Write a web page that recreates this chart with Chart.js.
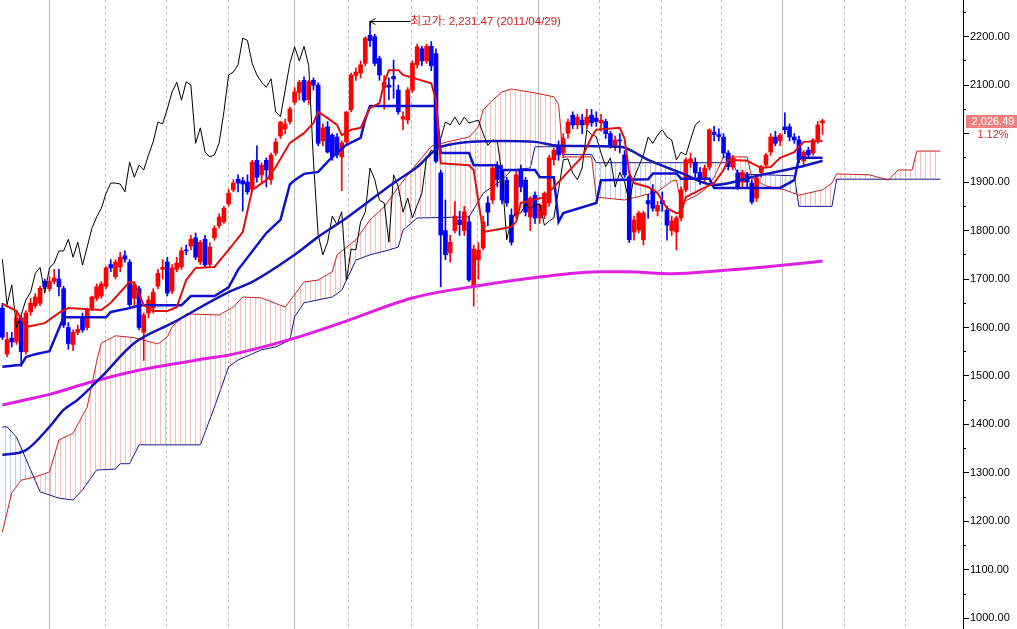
<!DOCTYPE html>
<html>
<head>
<meta charset="utf-8">
<script src="https://cdn.jsdelivr.net/npm/chart.js@4.4.1/dist/chart.umd.min.js"></script>
<style>
    html, body { margin: 0; padding: 0; background: #ffffff; overflow: hidden; }
    #kospiChart { display: block; }
</style>
</head>
<body>
<canvas id="kospiChart" width="1017" height="629"></canvas>
<script>
// Weekly candles (week 0 = end of Oct 2009, last = end of Feb 2013)
const opens = [
    1640, 1545, 1578, 1570, 1620, 1550, 1632, 1645, 1650, 1695,
    1680, 1695, 1700, 1680, 1600, 1565, 1590, 1622, 1600, 1640,
    1660, 1665, 1685, 1730, 1705, 1725, 1748, 1735, 1660, 1680,
    1590, 1630, 1640, 1685, 1720, 1735, 1675, 1720, 1725, 1760,
    1768, 1785, 1735, 1782, 1730, 1785, 1810, 1818, 1855, 1884,
    1906, 1903, 1900, 1885, 1945, 1915, 1945, 1905, 1960, 1995,
    2010, 2025, 2065, 2085, 2110, 2070, 2110, 2100, 1985, 2014,
    1997, 1993, 1952, 1983, 2049, 2120, 2125, 2145, 2203, 2200,
    2155, 2095, 2100, 2118, 2090, 2030, 2028, 2090, 2142, 2175,
    2150, 2180, 2165, 1919, 1800, 1754, 1800, 1822, 1800, 1818,
    1684, 1740, 1764, 1857, 1863, 1935, 1925, 1904, 1832, 1832,
    1925, 1904, 1828, 1873, 1826, 1832, 1857, 1946, 1973, 1960,
    2001, 2038, 2018, 2028, 2018, 2038, 2032, 2022, 2025, 2000,
    1976, 1987, 1956, 1911, 1797, 1801, 1781, 1862, 1884, 1840,
    1862, 1842, 1800, 1797, 1826, 1884, 1940, 1941, 1920, 1908,
    1931, 2003, 1998, 1993, 1960, 1931, 1919, 1900, 1915, 1898,
    1867, 1920, 1935, 1962, 1993, 1985, 2014, 2014, 1993, 1987,
    1944, 1966, 1960, 1987, 2022
];
const highs = [
    1650, 1590, 1590, 1635, 1625, 1635, 1660, 1670, 1685, 1700,
    1705, 1720, 1720, 1685, 1610, 1595, 1605, 1630, 1640, 1665,
    1690, 1695, 1725, 1740, 1740, 1755, 1758, 1740, 1695, 1685,
    1630, 1665, 1680, 1720, 1740, 1745, 1730, 1745, 1765, 1770,
    1790, 1795, 1780, 1790, 1775, 1810, 1835, 1850, 1885, 1905,
    1915, 1910, 1915, 1945, 1975, 1940, 1950, 1960, 1990, 2025,
    2030, 2055, 2095, 2110, 2117, 2110, 2115, 2105, 2020, 2025,
    2000, 2000, 1985, 2045, 2125, 2135, 2150, 2200, 2231.47, 2205,
    2160, 2120, 2115, 2152, 2100, 2045, 2095, 2150, 2185, 2180,
    2185, 2190, 2175, 1925, 1863, 1790, 1860, 1840, 1850, 1830,
    1770, 1775, 1830, 1870, 1935, 1942, 1935, 1910, 1845, 1925,
    1935, 1910, 1870, 1880, 1855, 1880, 1955, 1970, 1985, 2000,
    2030, 2045, 2040, 2040, 2050, 2050, 2045, 2040, 2030, 2005,
    1995, 2000, 1965, 1915, 1830, 1840, 1840, 1875, 1895, 1860,
    1880, 1850, 1830, 1830, 1890, 1950, 1960, 1950, 1930, 1935,
    2010, 2015, 2010, 2000, 1965, 1955, 1925, 1925, 1920, 1905,
    1915, 1935, 1960, 2000, 2005, 2000, 2043, 2020, 2000, 1995,
    1965, 1972, 1990, 2025, 2030
];
const lows = [
    1575, 1540, 1560, 1565, 1520, 1545, 1625, 1640, 1645, 1680,
    1675, 1690, 1665, 1600, 1555, 1552, 1585, 1590, 1595, 1635,
    1655, 1660, 1680, 1715, 1700, 1715, 1735, 1640, 1640, 1595,
    1532, 1620, 1630, 1680, 1700, 1665, 1670, 1715, 1720, 1750,
    1760, 1740, 1730, 1725, 1725, 1780, 1805, 1815, 1850, 1880,
    1880, 1840, 1875, 1880, 1900, 1900, 1890, 1895, 1955, 1990,
    2000, 2020, 2060, 2070, 2065, 2060, 2090, 1975, 1975, 1960,
    1945, 1950, 1882, 1980, 2045, 2110, 2115, 2140, 2180, 2140,
    2110, 2050, 2070, 2073, 2040, 2008, 2020, 2085, 2135, 2140,
    2145, 2130, 1940, 1684, 1740, 1735, 1795, 1790, 1790, 1695,
    1644, 1700, 1760, 1810, 1855, 1890, 1855, 1850, 1770, 1825,
    1880, 1830, 1800, 1815, 1815, 1825, 1850, 1935, 1945, 1950,
    1990, 2010, 2010, 2000, 2010, 2015, 2015, 2005, 1990, 1970,
    1965, 1960, 1910, 1775, 1780, 1795, 1770, 1825, 1840, 1830,
    1840, 1780, 1790, 1760, 1820, 1880, 1930, 1910, 1895, 1900,
    1925, 1985, 1985, 1950, 1925, 1925, 1885, 1890, 1890, 1855,
    1860, 1910, 1930, 1955, 1975, 1975, 2000, 1985, 1980, 1940,
    1935, 1950, 1955, 1980, 1998
];
const closes = [
    1580, 1575, 1570, 1620, 1550, 1630, 1650, 1663, 1681, 1684,
    1695, 1702, 1684, 1605, 1567, 1590, 1596, 1595, 1636, 1663,
    1684, 1690, 1723, 1723, 1735, 1745, 1741, 1647, 1688, 1600,
    1626, 1657, 1673, 1712, 1724, 1671, 1723, 1733, 1758, 1758,
    1782, 1745, 1776, 1729, 1766, 1805, 1828, 1846, 1877, 1898,
    1898, 1896, 1880, 1941, 1910, 1935, 1925, 1956, 1983, 2024,
    2020, 2051, 2086, 2106, 2069, 2107, 2100, 1980, 2012, 1962,
    1952, 1956, 1981, 2045, 2121, 2127, 2142, 2197, 2192, 2145,
    2121, 2106, 2096, 2113, 2045, 2035, 2090, 2145, 2179, 2150,
    2180, 2140, 1943, 1791, 1750, 1776, 1830, 1812, 1839, 1698,
    1762, 1760, 1818, 1838, 1929, 1905, 1863, 1857, 1776, 1915,
    1890, 1838, 1867, 1826, 1852, 1877, 1950, 1966, 1956, 1990,
    2024, 2018, 2034, 2018, 2034, 2022, 2025, 2028, 2000, 1976,
    1987, 1985, 1915, 1781, 1822, 1836, 1836, 1855, 1846, 1852,
    1855, 1811, 1820, 1826, 1884, 1946, 1948, 1919, 1905, 1929,
    2008, 1998, 1994, 1960, 1932, 1950, 1890, 1920, 1900, 1859,
    1909, 1932, 1956, 1993, 1980, 1997, 2008, 1993, 1987, 1946,
    1962, 1956, 1987, 2018, 2026.49
];

// Indicator lines as [week, value]
const tenkanPts = [
    [0, 1649], [3, 1634], [5, 1601], [9, 1609], [12, 1630], [14, 1640], [21, 1636], [23, 1651],
    [27, 1694], [28, 1692], [30, 1646], [32, 1634], [35, 1634], [37, 1642], [39, 1698], [41, 1723],
    [45, 1725], [48, 1760], [51, 1797], [53, 1884], [56, 1904], [58, 1931], [61, 1981], [64, 2001],
    [66, 2022], [67, 2045], [69, 2032], [71, 2018], [72, 1997], [74, 2008], [76, 2012], [78, 2053],
    [80, 2063], [81, 2104], [82, 2131], [84, 2131], [85, 2121], [91, 2104], [92, 2069], [93, 1939],
    [99, 1935], [100, 1925], [101, 1860], [102, 1797], [107, 1806], [108, 1808], [109, 1818], [110, 1857],
    [115, 1869], [118, 1900], [120, 1921], [123, 1952], [125, 1993], [126, 2008], [131, 2012], [132, 1990],
    [133, 1919], [134, 1898], [137, 1890], [139, 1877], [141, 1846], [143, 1836], [144, 1838], [145, 1869],
    [148, 1884], [151, 1898], [153, 1925], [154, 1946], [158, 1944], [161, 1929], [163, 1931], [165, 1950],
    [168, 1962], [170, 1983], [174, 1985]
];
const kijunPts = [
    [0, 1519], [4, 1523], [5, 1539], [7, 1545], [10, 1551], [13, 1621], [22, 1621], [23, 1632],
    [27, 1640], [29, 1646], [38, 1646], [40, 1665], [45, 1665], [48, 1683], [50, 1719], [56, 1795],
    [59, 1822], [61, 1895], [62, 1904], [64, 1917], [67, 1921], [70, 1952], [73, 1977], [76, 1991],
    [77, 2030], [78, 2057], [92, 2057], [93, 1960], [99, 1960], [100, 1935], [105, 1935], [106, 1925],
    [113, 1925], [114, 1910], [117, 1910], [118, 1818], [119, 1836], [126, 1857], [127, 1904], [137, 1906],
    [138, 1918], [143, 1918], [144, 1907], [150, 1907], [151, 1888], [165, 1888], [168, 1904], [169, 1950],
    [174, 1950]
];
const maBluePts = [
    [0, 1337], [5, 1347], [10, 1395], [13, 1430], [16, 1451], [21, 1498], [28, 1568], [36, 1609],
    [48, 1673], [53, 1694], [62, 1750], [67, 1787], [73, 1826], [83, 1898], [88, 1931], [93, 1973],
    [106, 1985], [113, 1983], [118, 1975], [131, 1973], [137, 1946], [144, 1919], [151, 1894], [161, 1915],
    [169, 1931], [174, 1944]
];
const maPinkPts = [
    [0, 1440], [5, 1451], [10, 1462], [19, 1488], [29, 1512], [44, 1537], [48, 1543], [62, 1578],
    [72, 1610], [87, 1661], [101, 1686], [114, 1704], [127, 1715], [132, 1715], [142, 1711],
    [152, 1717], [166, 1729], [174, 1737]
];
const spanAPts = [
    [0, 1178], [2, 1259], [4, 1285], [7, 1292], [10, 1302], [12, 1368], [15, 1382], [18, 1436],
    [20, 1530], [21, 1568], [24, 1583], [28, 1579], [33, 1566], [35, 1581], [36, 1601], [39, 1628],
    [46, 1626], [49, 1642], [51, 1663], [55, 1661], [60, 1642], [64, 1694], [67, 1698], [70, 1715],
    [71, 1750], [75, 1781], [78, 1822], [81, 1849], [84, 1890], [88, 1939], [91, 1974], [94, 1982],
    [99, 1993], [101, 2014], [102, 2049], [104, 2069], [106, 2086], [108, 2092], [113, 2084], [117, 2076],
    [118, 2060], [119, 1952], [125, 1952], [126, 1869], [132, 1863], [139, 1880], [142, 1902], [143, 1904],
    [144, 1857], [147, 1871], [149, 1884], [151, 1910], [153, 1952], [158, 1952], [159, 1909], [162, 1892],
    [166, 1884], [169, 1873], [174, 1884], [176, 1898], [177, 1917], [184, 1915], [188, 1904], [190, 1925],
    [193, 1925], [194, 1964], [199, 1964]
];
const spanBPts = [
    [0, 1395], [1, 1395], [3, 1374], [8, 1261], [12, 1248], [15, 1244], [17, 1265], [20, 1306],
    [24, 1308], [25, 1319], [27, 1319], [29, 1358], [42, 1358], [45, 1436], [48, 1519], [50, 1533],
    [55, 1554], [58, 1560], [61, 1574], [62, 1622], [64, 1651], [70, 1663], [72, 1677], [75, 1739],
    [78, 1750], [82, 1760], [84, 1766], [85, 1801], [88, 1826], [99, 1828], [102, 1877], [103, 1884],
    [106, 1904], [108, 1925], [112, 1929], [113, 1973], [118, 1973], [119, 1957], [125, 1957], [126, 1940],
    [155, 1940], [156, 1917], [168, 1913], [169, 1850], [176, 1850], [177, 1906], [199, 1906]
];
const lagWeeks = 26;

// Axis ticks / grid positions (in weeks)
const quarterWeeks = [21.8, 34.9, 47.9, 73.5, 86.7, 100.7, 126.6, 139.8, 152.5, 178.6, 191.7];
const yearWeeks = [9.9, 61.9, 113.7, 165.6];
const priceTicks = [1000, 1100, 1200, 1300, 1400, 1500, 1600, 1700, 1800, 1900, 2000, 2100, 2200];
const minorTicks = [1050, 1150, 1250, 1350, 1450, 1550, 1650, 1750, 1850, 1950, 2050, 2150, 2250];

const highWeek = 78;
const highPrice = 2231.47;
const highLabel = '최고가: 2,231.47 (2011/04/29)';
const lastLabel = '2,026.49';
const changeLabel = '1.12%';

const axisFont = { family: '"Liberation Sans", Arial, sans-serif', size: 11 };


// Vertical hatch used for the cloud
function makeHatch(color) {
    const c = document.createElement('canvas');
    c.width = 5;
    c.height = 4;
    const g = c.getContext('2d');
    g.fillStyle = color;
    g.fillRect(0, 0, 1, 4);
    return g.createPattern(c, 'repeat');
}

const toXY = (pts) => pts.map(p => ({ x: p[0], y: p[1] }));
const candleColor = (ctx) => {
    const i = ctx.dataIndex;
    if (i === undefined) return '#ff0000';
    return closes[i] >= opens[i] ? '#ff0000' : '#0000ff';
};

const bodies = closes.map((c, i) => ({ x: i, y: [opens[i], c] }));
const wicks = closes.map((c, i) => ({ x: i, y: [lows[i], highs[i]] }));
const lagging = closes.slice(lagWeeks).map((c, i) => ({ x: i, y: c }));
const lastClose = closes[closes.length - 1];

// Labels: highest price arrow + last price tag on the axis
const markerPlugin = {
    id: 'markers',
    afterDraw(chart) {
        const { ctx } = chart;
        const xs = chart.scales.x;
        const ys = chart.scales.y;
        ctx.save();

        const hx = Math.round(xs.getPixelForValue(highWeek)) + 0.5;
        const hy = Math.round(ys.getPixelForValue(highPrice)) + 0.5;
        ctx.strokeStyle = '#000000';
        ctx.lineWidth = 1;
        ctx.beginPath();
        ctx.moveTo(hx + 40, hy);
        ctx.lineTo(hx, hy);
        ctx.moveTo(hx + 5, hy - 3);
        ctx.lineTo(hx, hy);
        ctx.lineTo(hx + 5, hy + 3);
        ctx.moveTo(hx, hy);
        ctx.lineTo(hx, hy + 4);
        ctx.stroke();

        ctx.font = '11.5px "Liberation Sans", "Noto Sans CJK KR", sans-serif';
        ctx.fillStyle = '#d02020';
        ctx.textBaseline = 'middle';
        ctx.textAlign = 'left';
        ctx.fillText(highLabel, hx + 40, hy);

        const ty = Math.round(ys.getPixelForValue(lastClose));
        ctx.fillStyle = '#f08080';
        ctx.fillRect(ys.left + 3, ty - 6, chart.width - ys.left - 3, 13);
        ctx.font = '11px "Liberation Sans", Arial, sans-serif';
        ctx.textAlign = 'center';
        ctx.fillStyle = '#ffffff';
        ctx.fillText(lastLabel, ys.left + 30, ty + 0.5);
        ctx.fillStyle = '#c83030';
        ctx.fillText(changeLabel, ys.left + 30, ty + 13.5);
        ctx.restore();
    }
};

const noPad = (s) => { s.paddingTop = 0; s.paddingBottom = 0; s.paddingLeft = 0; s.paddingRight = 0; };

new Chart(document.getElementById('kospiChart'), {
    type: 'line',
    data: {
        datasets: [
            { label: 'tenkan', data: toXY(tenkanPts), borderColor: '#e01010', borderWidth: 2, order: 1 },
            { label: 'kijun', data: toXY(kijunPts), borderColor: '#1010d0', borderWidth: 2.5, order: 2 },
            {
                label: 'ma26', data: toXY(maBluePts), borderColor: '#1414bc', borderWidth: 2.5, order: 3,
                cubicInterpolationMode: 'monotone'
            },
            {
                label: 'ma52', data: toXY(maPinkPts), borderColor: '#e020e0', borderWidth: 3, order: 4,
                cubicInterpolationMode: 'monotone'
            },
            { label: 'lagging', data: lagging, borderColor: '#000000', borderWidth: 1, order: 5 },
            {
                label: 'body', type: 'bar', data: bodies,
                backgroundColor: candleColor, borderWidth: 0,
                barThickness: 4, minBarLength: 1, grouped: false, order: 6
            },
            {
                label: 'wick', type: 'bar', data: wicks,
                backgroundColor: candleColor, borderWidth: 0,
                barThickness: 1, grouped: false, order: 7
            },
            {
                label: 'spanA', data: toXY(spanAPts), borderColor: '#c82020', borderWidth: 1, order: 8,
                fill: { target: 8, above: makeHatch('rgba(232, 140, 140, 0.55)'), below: makeHatch('rgba(140, 160, 225, 0.55)') }
            },
            { label: 'spanB', data: toXY(spanBPts), borderColor: '#12128c', borderWidth: 1, order: 9 }
        ]
    },
    options: {
        responsive: false,
        animation: false,
        events: [],
        layout: { padding: 0 },
        elements: {
            point: { radius: 0 },
            line: { tension: 0, fill: false }
        },
        plugins: {
            legend: { display: false },
            tooltip: { enabled: false }
        },
        scales: {
            x: {
                type: 'linear', position: 'bottom', min: -0.5, max: 203.8, offset: false,
                afterBuildTicks: (s) => { s.ticks = quarterWeeks.map(v => ({ value: v })); },
                ticks: { display: false },
                grid: { offset: false, color: '#c4c4c4', drawTicks: false },
                border: { display: false, dash: [3, 3] },
                afterFit: (s) => { s.height = 0; noPad(s); }
            },
            xYear: {
                type: 'linear', position: 'bottom', min: -0.5, max: 203.8, offset: false,
                afterBuildTicks: (s) => { s.ticks = yearWeeks.map(v => ({ value: v })); },
                ticks: { display: false },
                grid: { offset: false, color: '#bdbdbd', drawTicks: false },
                border: { display: false },
                afterFit: (s) => { s.height = 0; noPad(s); }
            },
            y: {
                position: 'right', min: 978, max: 2275.7,
                afterBuildTicks: (s) => { s.ticks = priceTicks.map(v => ({ value: v })); },
                ticks: {
                    color: '#000000', font: axisFont, padding: 1,
                    // the last price tag sits over the nearest label
                    callback: (v) => Math.abs(v - lastClose) < 40 ? '' : v.toFixed(2)
                },
                grid: { drawOnChartArea: false, tickLength: 6, tickColor: '#000000' },
                border: { color: '#000000' },
                afterFit: (s) => { s.width = 54; noPad(s); }
            },
            yMinor: {
                position: 'right', weight: -1, min: 978, max: 2275.7,
                afterBuildTicks: (s) => { s.ticks = minorTicks.map(v => ({ value: v })); },
                ticks: { display: false },
                grid: { drawOnChartArea: false, tickLength: 3, tickColor: '#000000' },
                border: { display: false },
                afterFit: (s) => { s.width = 0; noPad(s); }
            }
        }
    },
    plugins: [markerPlugin]
});
</script>
</body>
</html>
